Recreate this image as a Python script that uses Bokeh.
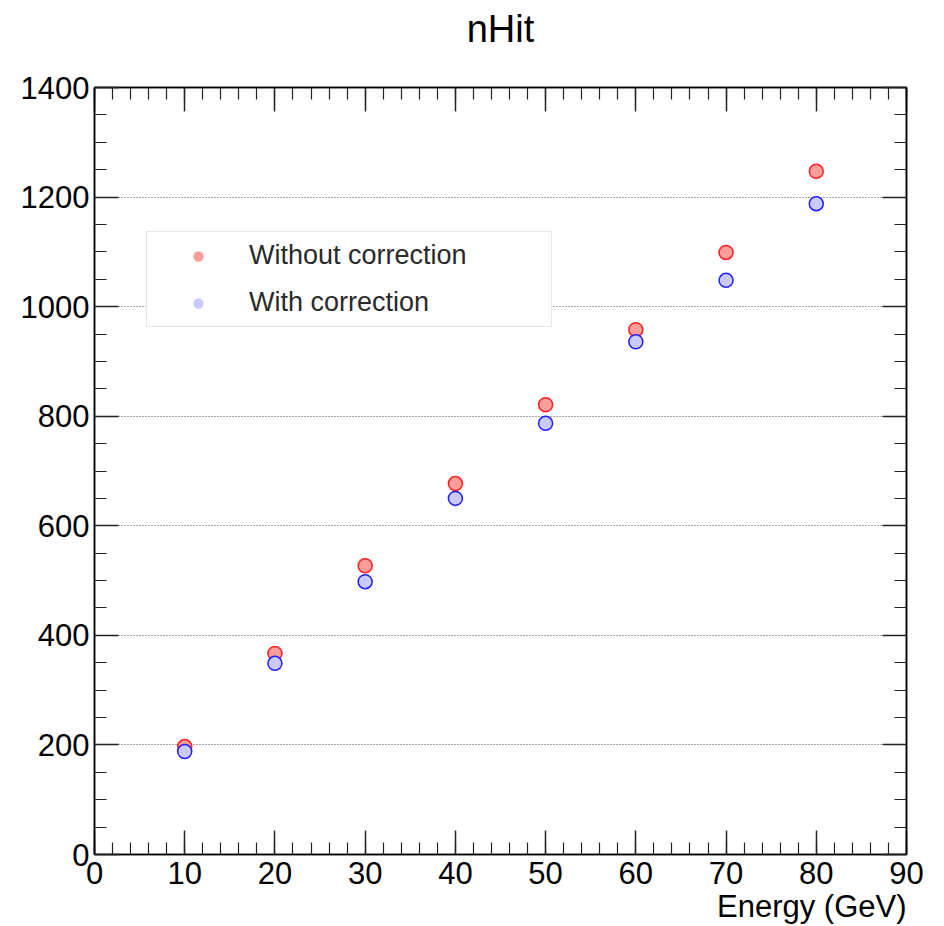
from bokeh.plotting import figure
from bokeh.models import (Range1d, LinearAxis, SingleIntervalTicker, Legend, LegendItem,
                          Title, ColumnDataSource, Grid)
from bokeh.embed import file_html
from bokeh.resources import INLINE

# ---- data ----
energy = [10, 20, 30, 40, 50, 60, 70, 80]
nhit_without = [197, 367, 527, 677, 821, 958, 1099, 1247]
nhit_with = [188, 349, 498, 650, 787, 936, 1048, 1188]
title_text = "nHit"
xlabel_text = "Energy (GeV)"
legend_labels = ["Without correction", "With correction"]

FONT = "Liberation Sans"

p = figure(width=944, height=926, output_backend="svg", toolbar_location=None,
           x_range=Range1d(0, 90), y_range=Range1d(0, 1400),
           min_border_left=94, min_border_right=38, min_border_top=87, min_border_bottom=72,
           x_axis_type=None, y_axis_type=None)
p.background_fill_color = "white"
p.border_fill_color = "white"
p.outline_line_color = "black"
p.outline_line_width = 1.5
p.title.text = ""
p.title.standoff = 0

xt = SingleIntervalTicker(interval=10, num_minor_ticks=5)
yt = SingleIntervalTicker(interval=200, num_minor_ticks=4)

def style_axis(ax, labels=True):
    ax.axis_line_color = "black"
    ax.axis_line_width = 1.5
    ax.major_tick_in = 24
    ax.major_tick_out = 0
    ax.minor_tick_in = 12
    ax.minor_tick_out = 0
    ax.major_tick_line_color = "#222222"
    ax.minor_tick_line_color = "#222222"
    ax.major_tick_line_width = 1.5
    ax.minor_tick_line_width = 1.2
    ax.major_label_text_font = FONT
    ax.major_label_text_font_size = "31px"
    ax.major_label_text_color = "black"
    if not labels:
        ax.major_label_text_font_size = "0px"
        ax.major_label_text_alpha = 0
        ax.major_label_standoff = 0

xb = LinearAxis(ticker=xt); style_axis(xb); xb.major_label_standoff = 7
xa = LinearAxis(ticker=xt); style_axis(xa, False)
yl = LinearAxis(ticker=yt); style_axis(yl); yl.major_label_standoff = 5
yr = LinearAxis(ticker=yt); style_axis(yr, False)

# chart title drawn as the label of the top axis (centred over the frame)
xa.axis_label = title_text
xa.axis_label_text_font = FONT
xa.axis_label_text_font_size = "38px"
xa.axis_label_text_font_style = "normal"
xa.axis_label_text_color = "black"
xa.axis_label_standoff = 38

p.add_layout(xb, "below")
p.add_layout(xa, "above")
p.add_layout(yl, "left")
p.add_layout(yr, "right")

xtitle = Title(text=xlabel_text, align="right", text_font=FONT, text_font_size="31px",
               text_font_style="normal", text_color="black", standoff=0)
p.add_layout(xtitle, "below")

p.xgrid.visible = False
p.ygrid.visible = False
g = Grid(dimension=1, ticker=yt, grid_line_color="#444444", grid_line_dash="1 2",
         grid_line_width=1)
p.add_layout(g)

src = ColumnDataSource(dict(e=energy, a=nhit_without, b=nhit_with))
p.scatter("e", "a", source=src, size=14, fill_color="#ff9c9c", line_color="#ff2020",
          line_width=1.5)
p.scatter("e", "b", source=src, size=14, fill_color="#cacaff", line_color="#2020ff",
          line_width=1.5)

# legend-only glyphs (no outline), placed outside the visible range
ra = p.scatter([-100], [-1000], fill_color="#ff9c9c", line_color=None)
rb = p.scatter([-100], [-1000], fill_color="#cacaff", line_color=None)
leg = Legend(items=[LegendItem(label=legend_labels[0], renderers=[ra]),
                    LegendItem(label=legend_labels[1], renderers=[rb])],
             location=(52, 527), margin=0, padding=8, glyph_width=86, glyph_height=26,
             label_height=31, label_width=294, label_standoff=8, spacing=16,
             label_text_font=FONT, label_text_font_size="27px", label_text_color="#2a2a2a",
             border_line_color="#d0d0d0", border_line_width=1.5,
             background_fill_color="white", background_fill_alpha=1)
p.add_layout(leg, "center")

open("out.html", "w").write(file_html(p, INLINE))
